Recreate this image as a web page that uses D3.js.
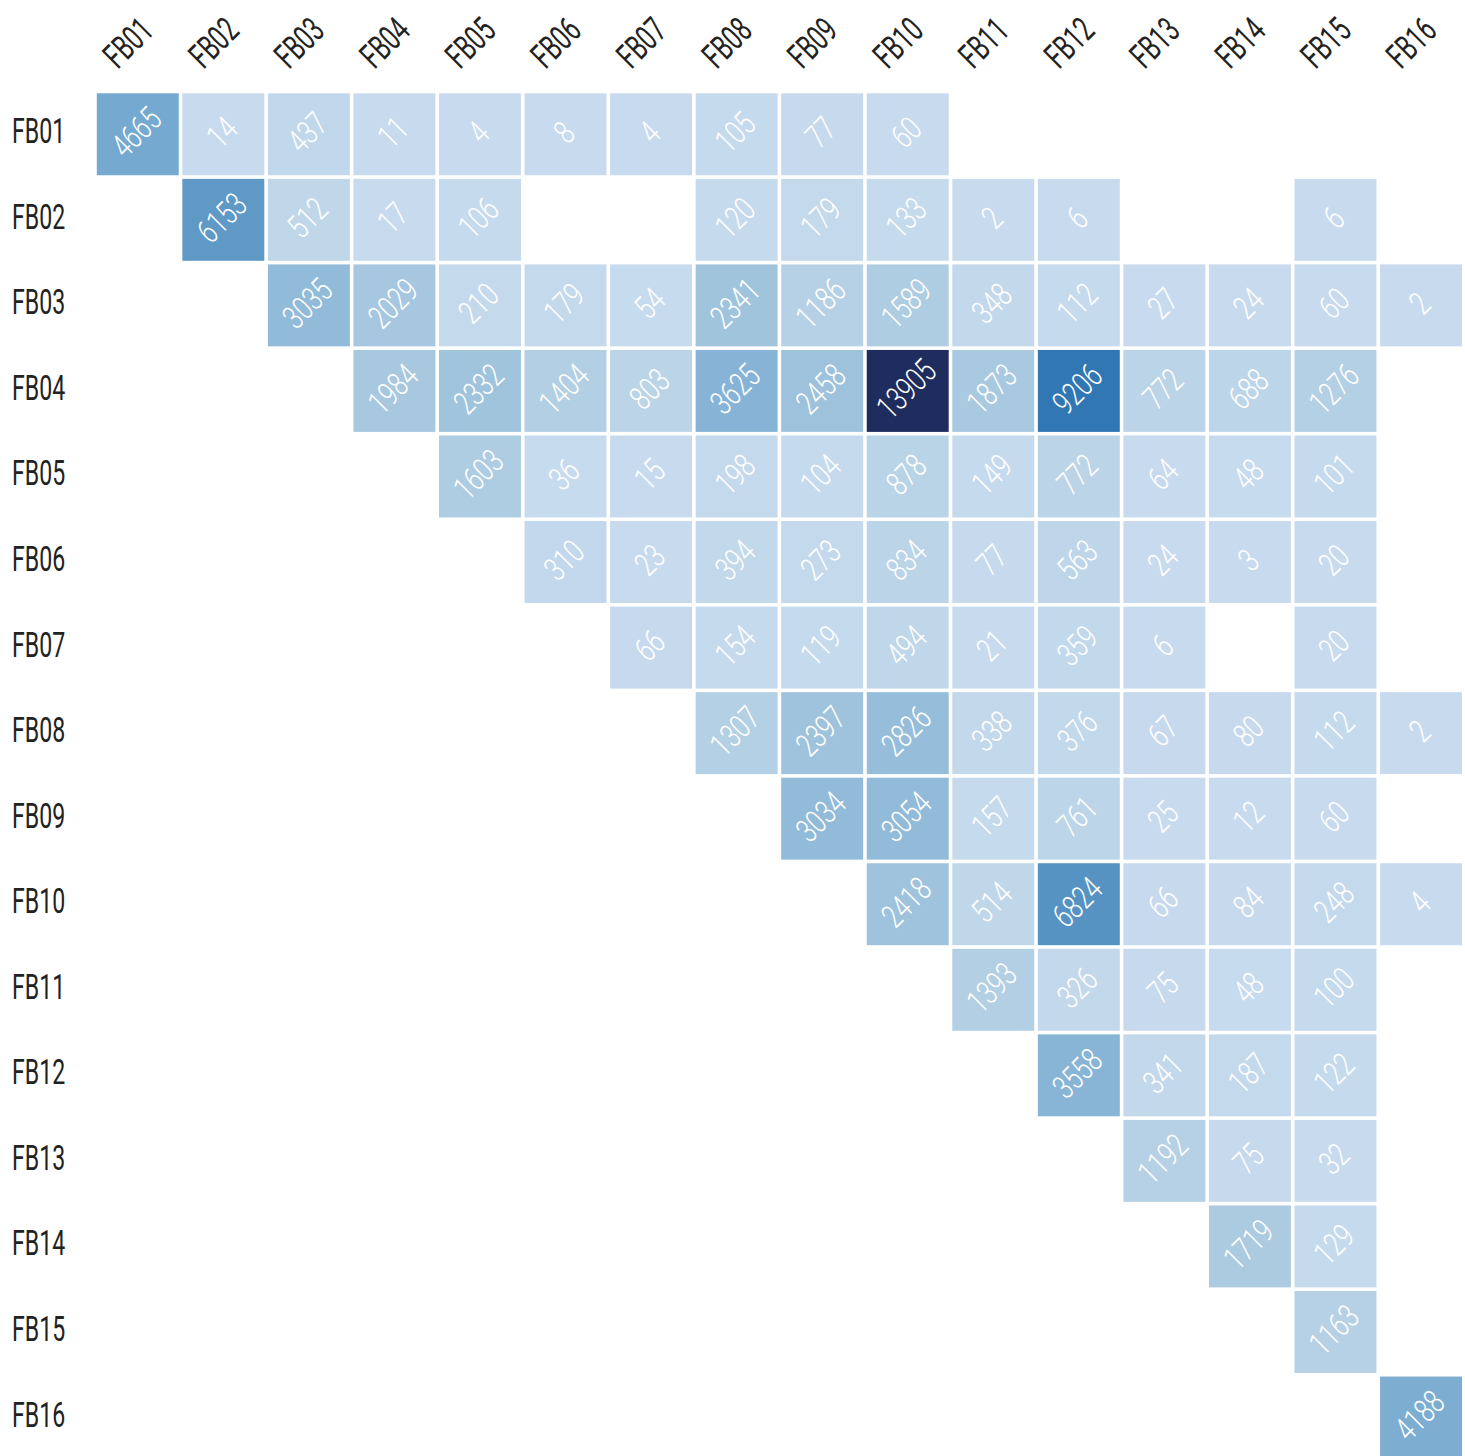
<!DOCTYPE html>
<html>
<head>
<meta charset="utf-8">
<script src="https://cdn.jsdelivr.net/npm/d3@7"></script>
<style>
  body { margin: 0; background: #fff; }
  text { font-family: Roboto, "DejaVu Sans Condensed", sans-serif; }
  .val { font-weight: 300; }
  .rowLabel, .colLabel { font-weight: 400; }
</style>
</head>
<body>
<svg id="chart"></svg>
<script>
// labels for rows and columns
var labels = ["FB01","FB02","FB03","FB04","FB05","FB06","FB07","FB08",
              "FB09","FB10","FB11","FB12","FB13","FB14","FB15","FB16"];

// one array per row, null = empty cell
var rowFB01 = [4665, 14, 437, 11, 4, 8, 4, 105, 77, 60, null, null, null, null, null, null];
var rowFB02 = [null, 6153, 512, 17, 106, null, null, 120, 179, 133, 2, 6, null, null, 6, null];
var rowFB03 = [null, null, 3035, 2029, 210, 179, 54, 2341, 1186, 1589, 348, 112, 27, 24, 60, 2];
var rowFB04 = [null, null, null, 1984, 2332, 1404, 803, 3625, 2458, 13905, 1873, 9206, 772, 688, 1276, null];
var rowFB05 = [null, null, null, null, 1603, 36, 15, 198, 104, 878, 149, 772, 64, 48, 101, null];
var rowFB06 = [null, null, null, null, null, 310, 23, 394, 273, 834, 77, 563, 24, 3, 20, null];
var rowFB07 = [null, null, null, null, null, null, 66, 154, 119, 494, 21, 359, 6, null, 20, null];
var rowFB08 = [null, null, null, null, null, null, null, 1307, 2397, 2826, 338, 376, 67, 80, 112, 2];
var rowFB09 = [null, null, null, null, null, null, null, null, 3034, 3054, 157, 761, 25, 12, 60, null];
var rowFB10 = [null, null, null, null, null, null, null, null, null, 2418, 514, 6824, 66, 84, 248, 4];
var rowFB11 = [null, null, null, null, null, null, null, null, null, null, 1393, 326, 75, 48, 100, null];
var rowFB12 = [null, null, null, null, null, null, null, null, null, null, null, 3558, 341, 187, 122, null];
var rowFB13 = [null, null, null, null, null, null, null, null, null, null, null, null, 1192, 75, 32, null];
var rowFB14 = [null, null, null, null, null, null, null, null, null, null, null, null, null, 1719, 129, null];
var rowFB15 = [null, null, null, null, null, null, null, null, null, null, null, null, null, null, 1163, null];
var rowFB16 = [null, null, null, null, null, null, null, null, null, null, null, null, null, null, null, 4188];

var rows = [rowFB01, rowFB02, rowFB03, rowFB04, rowFB05, rowFB06, rowFB07, rowFB08,
            rowFB09, rowFB10, rowFB11, rowFB12, rowFB13, rowFB14, rowFB15, rowFB16];

var width = 1465;
var height = 1456;
var gap = 3.6;

var cells = [];
rows.forEach(function(r, i){
  r.forEach(function(v, j){
    if(v !== null) cells.push({row: labels[i], col: labels[j], value: v});
  })
})

var x = d3.scaleBand().domain(labels).range([95, 1463.8]);
var y = d3.scaleBand().domain(labels).range([91.5, 1460.3]);

var color = d3.scaleLinear()
  .domain([0, 1300, 2400, 3600, 4700, 6800, 9200, 13905])
  .range(["#c8dbee", "#b4d0e4", "#9fc3dc", "#87b4d6", "#74a9cf", "#5692c2", "#3177b3", "#1f2d5e"])
  .clamp(true);

var svg = d3.select("#chart")
  .attr("width", width)
  .attr("height", height);

// cells
svg.selectAll(".cell")
  .data(cells)
  .enter()
  .append("rect")
    .classed("cell", true)
    .attr("x", d=> x(d.col) + gap/2)
    .attr("y", d=> y(d.row) + gap/2)
    .attr("width", x.bandwidth() - gap)
    .attr("height", y.bandwidth() - gap)
    .attr("fill", d=> color(d.value));

// values, rotated
svg.selectAll(".val")
  .data(cells)
  .enter()
  .append("text")
    .classed("val", true)
    .attr("transform", d=> `translate(${x(d.col) + x.bandwidth()/2 - 1.5}, ${y(d.row) + y.bandwidth()/2 - 2}) rotate(-45) scale(0.74,1)`)
    .attr("y", 11.5)
    .attr("text-anchor", "middle")
    .attr("fill", "#fff")
    .style("font-size", "33px")
    .text(d=> d.value);

// row labels
svg.selectAll(".rowLabel")
  .data(labels)
  .enter()
  .append("text")
    .classed("rowLabel", true)
    .attr("transform", d=> `translate(12, ${y(d) + y.bandwidth()/2 + 9}) scale(0.66,1)`)
    .attr("fill", "#222")
    .style("font-size", "35px")
    .text(d=> d);

// column labels
svg.selectAll(".colLabel")
  .data(labels)
  .enter()
  .append("text")
    .classed("colLabel", true)
    .attr("transform", d=> `translate(${x(d) + x.bandwidth()/2 - 10}, 42.5) rotate(-45) scale(0.66,1)`)
    .attr("y", 12.5)
    .attr("text-anchor", "middle")
    .attr("fill", "#222")
    .style("font-size", "35px")
    .text(d=> d);
</script>
</body>
</html>
